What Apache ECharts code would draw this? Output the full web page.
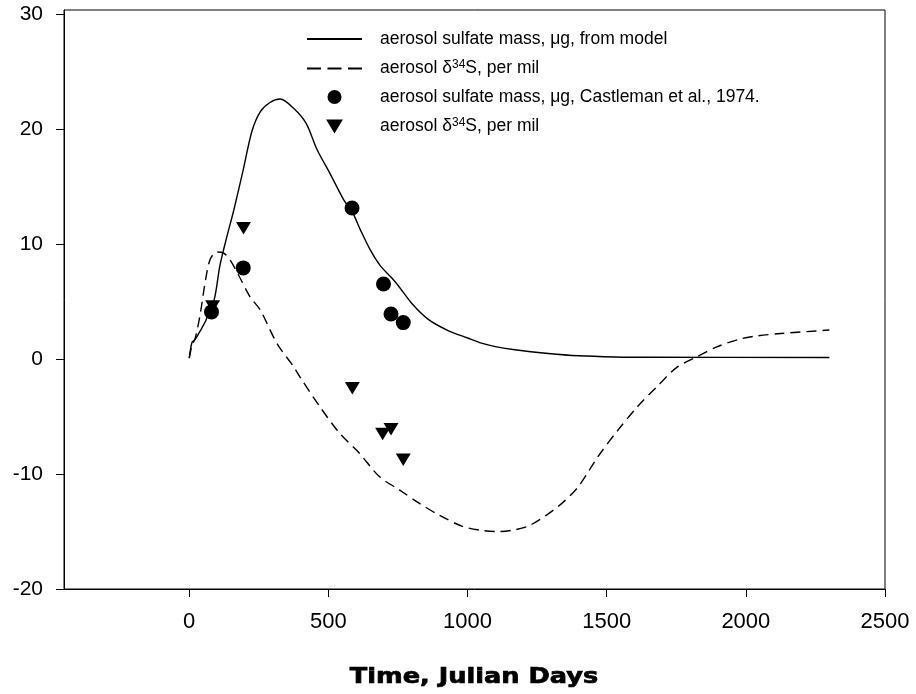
<!DOCTYPE html>
<html><head><meta charset="utf-8">
<script src="https://cdn.jsdelivr.net/npm/echarts@6/dist/echarts.min.js"></script>
<style>html,body{margin:0;padding:0;background:#fff}#c{width:916px;height:694px}</style>
</head><body><div id="c"></div>
<script>
// Model: aerosol sulfate mass (ug)
const modelMassDays = [0, 10, 20, 40, 60, 90, 110, 135, 160, 195, 225, 255, 290, 327, 375, 420, 460, 505, 555, 585, 615, 650, 687, 740, 800, 860, 930, 1000, 1050, 1100, 1170, 1290, 1400, 1530, 1650, 2300];
const modelMass = [0.1, 1.48, 1.68, 2.49, 3.4, 5.21, 8.13, 10.65, 12.97, 16.6, 19.83, 21.54, 22.35, 22.65, 21.84, 20.53, 18.21, 16.2, 13.88, 12.87, 11.26, 9.54, 8.13, 6.75, 4.85, 3.45, 2.5, 1.85, 1.4, 1.1, 0.82, 0.5, 0.3, 0.2, 0.17, 0.15];
// Model: aerosol d34S (per mil)
const modelD34Days = [0, 10, 22, 40, 58, 76, 100, 124, 147, 177, 219, 255, 315, 375, 397, 469, 540, 612, 683, 755, 826, 896, 982, 1050, 1111, 1170, 1225, 1325, 1397, 1468, 1540, 1611, 1682, 1753, 1825, 1896, 1982, 2039, 2126, 2300];
const modelD34 = [0.1, 1.18, 1.88, 4.0, 6.82, 8.74, 9.34, 9.24, 8.64, 7.33, 5.41, 4.3, 1.38, -0.64, -1.51, -4.12, -6.43, -8.2, -10.21, -11.37, -12.53, -13.54, -14.55, -14.9, -15.0, -14.85, -14.45, -12.83, -11.12, -8.5, -6.18, -4.12, -2.35, -0.69, 0.23, 1.08, 1.78, 2.03, 2.24, 2.54];
// Observations, Castleman et al., 1974
const obsMassDays = [80, 194, 585, 698, 725, 769];
const obsMass = [4.12, 7.95, 13.17, 6.55, 3.94, 3.19];
const obsD34Days = [84, 195, 586, 695, 725, 769];
const obsD34 = [4.58, 11.4, -2.52, -6.5, -6.09, -8.76];
// Tick labels
const xTicks = [0, 500, 1000, 1500, 2000, 2500];
const yTicks = [-20, -10, 0, 10, 20, 30];

const legendText = {
  m_mass: 'aerosol sulfate mass, \u03bcg, from model',
  m_d34: 'aerosol \u03b4{sup|34}S, per mil',
  o_mass: 'aerosol sulfate mass, \u03bcg, Castleman et al., 1974.',
  o_d34: 'aerosol \u03b4{sup|34}S, per mil'
};
const pair = (xs, ys) => xs.map((x, i) => [x, ys[i]]);
const tri = 'path://M0,0L12,0L6,10Z';
const FONT = 'Liberation Sans, Arial, sans-serif';

const chart = echarts.init(document.getElementById('c'));
chart.setOption({
  animation: false,
  backgroundColor: '#fff',
  grid: { left: 64, right: 31, top: 10, bottom: 105, show: true, borderColor: '#000', borderWidth: 1, backgroundColor: 'transparent' },
  graphic: [{
    type: 'text', x: 474, y: 688, scaleX: 1.22, silent: true,
    style: { text: 'Time, Julian Days', fontFamily: 'DejaVu Sans', fontWeight: 'bold', fontSize: 21,
      fill: '#000', stroke: '#000', lineWidth: 0.7, textAlign: 'center', textVerticalAlign: 'bottom' }
  }],
  legend: {
    orient: 'vertical', left: 301, top: 25, itemWidth: 55, itemHeight: 14, itemGap: 10.5,
    symbolKeepAspect: true,
    formatter: n => legendText[n],
    textStyle: { fontFamily: FONT, fontSize: 17.5, color: '#000', padding: [0,0,0,13],
      rich: { sup: { fontFamily: FONT, fontSize: 12, color: '#000', padding: [0, 0, 8, 0] } } },
    data: [
      { name: 'm_mass', itemStyle: { opacity: 0 } },
      { name: 'm_d34', itemStyle: { opacity: 0 }, lineStyle: { type: [14, 6.5] } },
      { name: 'o_mass', icon: 'circle' },
      { name: 'o_d34', icon: tri }
    ]
  },
  xAxis: {
    type: 'value', min: -450, max: 2500,
    axisLine: { onZero: false, lineStyle: { color: '#000', width: 1 } },
    axisTick: { show: true, length: 8, inside: false, customValues: xTicks, lineStyle: { color: '#000' } },
    axisLabel: { customValues: xTicks, formatter: v => String(v), margin: 22, fontFamily: FONT, fontSize: 22, color: '#000' },
    splitLine: { show: false }
  },
  yAxis: {
    type: 'value', min: -20, max: 30.4,
    axisLine: { show: true, onZero: false, lineStyle: { color: '#000', width: 1 } },
    axisTick: { show: true, length: 8, customValues: yTicks, lineStyle: { color: '#000' } },
    axisLabel: { customValues: yTicks, formatter: v => String(v), margin: 21, fontFamily: FONT, fontSize: 21, color: '#000' },
    splitLine: { show: false }
  },
  series: [
    { name: 'm_mass', type: 'line', data: pair(modelMassDays, modelMass), symbol: 'none', smooth: 0.3,
      lineStyle: { color: '#000', width: 1.4 }, itemStyle: { color: '#000' }, z: 3 },
    { name: 'm_d34', type: 'line', data: pair(modelD34Days, modelD34), symbol: 'none', smooth: 0.3,
      lineStyle: { color: '#000', width: 1.4, type: [10, 6] }, itemStyle: { color: '#000' }, z: 3 },
    { name: 'o_mass', type: 'scatter', data: pair(obsMassDays, obsMass), symbol: 'circle', symbolSize: 15,
      itemStyle: { color: '#000', opacity: 1 }, z: 4 },
    { name: 'o_d34', type: 'scatter', data: pair(obsD34Days, obsD34), symbol: tri, symbolSize: [15, 12.5],
      itemStyle: { color: '#000', opacity: 1 }, z: 4 }
  ]
});
</script>
</body></html>
